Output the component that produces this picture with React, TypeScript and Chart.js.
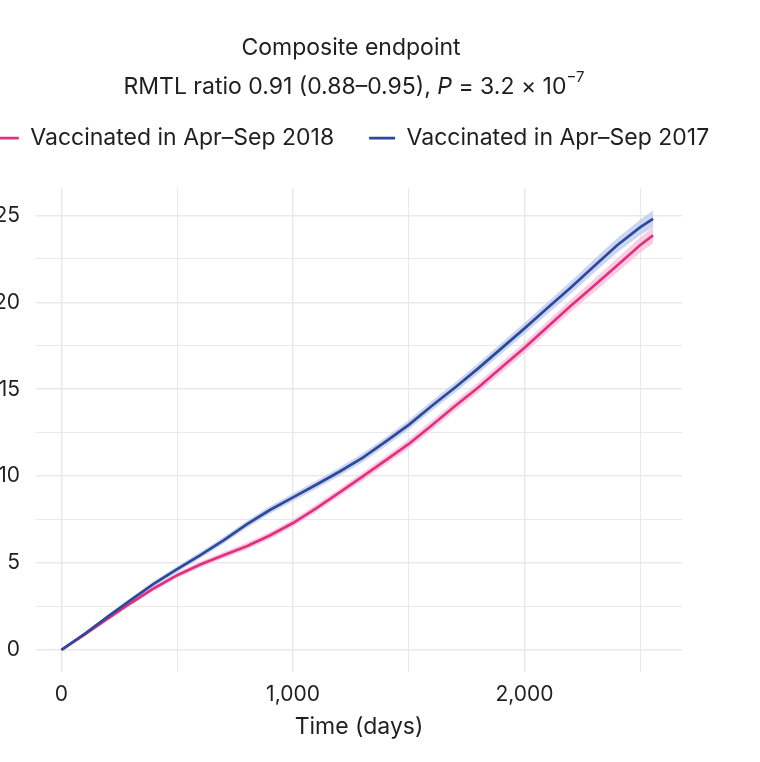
import { useEffect, useRef } from "react";
import { Chart, registerables } from "chart.js";

Chart.register(...registerables);

// Restricted mean time lost (days)
const days = [0, 100, 200, 300, 400, 500, 600, 700, 800, 900, 1000, 1100, 1200, 1300, 1400, 1500, 1600, 1700, 1800, 1900, 2000, 2100, 2200, 2300, 2400, 2500, 2555];
const rmtl2017 = [0, 0.92, 1.92, 2.88, 3.82, 4.65, 5.45, 6.3, 7.22, 8.05, 8.78, 9.5, 10.25, 11.05, 11.98, 12.95, 14.05, 15.1, 16.2, 17.35, 18.5, 19.68, 20.85, 22.08, 23.28, 24.32, 24.8];
const rmtl2018 = [0, 0.88, 1.8, 2.7, 3.55, 4.3, 4.92, 5.45, 5.97, 6.58, 7.3, 8.15, 9.05, 9.97, 10.9, 11.85, 12.93, 14.03, 15.1, 16.25, 17.38, 18.6, 19.8, 20.95, 22.12, 23.3, 23.85];
const ci2017 = [0, 0.06, 0.09, 0.12, 0.14, 0.16, 0.18, 0.19, 0.2, 0.21, 0.22, 0.23, 0.24, 0.25, 0.26, 0.27, 0.28, 0.29, 0.3, 0.31, 0.32, 0.34, 0.36, 0.38, 0.41, 0.45, 0.48];
const ci2018 = [0, 0.06, 0.09, 0.11, 0.13, 0.15, 0.17, 0.18, 0.19, 0.2, 0.21, 0.22, 0.23, 0.24, 0.25, 0.26, 0.27, 0.28, 0.29, 0.3, 0.31, 0.33, 0.35, 0.37, 0.4, 0.44, 0.47];

const xTicks = [0, 500, 1000, 1500, 2000, 2500];
const yTicks = [0, 2.5, 5, 7.5, 10, 12.5, 15, 17.5, 20, 22.5, 25];

const FONT = "Inter, 'DejaVu Sans', sans-serif";
const TEXT = "#1f1f1f";
const BLUE = "#2d4a9a";
const PINK = "#e2307e";
const BLUE_BAND = "rgba(182, 196, 236, 0.7)";
const PINK_BAND = "rgba(250, 184, 214, 0.7)";
const GRID = "#e9e9e9";

const points = (ys: number[], ci?: number[], sign = 0) =>
  days.map((d, i) => ({ x: d, y: ys[i] + (ci ? sign * ci[i] : 0) }));

// subtitle has an italic P and a superscript exponent, so draw it by hand
const richSubtitle = {
  id: "richSubtitle",
  afterDraw(chart: Chart) {
    const ctx = chart.ctx;
    const parts = [
      { text: "RMTL ratio 0.91 (0.88–0.95), ", font: `23px ${FONT}`, dy: 0 },
      { text: "P", font: `italic 23px ${FONT}`, dy: 0 },
      { text: " = 3.2 × 10", font: `23px ${FONT}`, dy: 0 },
      { text: "−7", font: `15px ${FONT}`, dy: -10 },
    ];
    ctx.save();
    let total = 0;
    for (const p of parts) {
      ctx.font = p.font;
      total += ctx.measureText(p.text).width;
    }
    let x = chart.width / 2 - total / 2 + 3;
    const y = 87;
    ctx.fillStyle = TEXT;
    ctx.textBaseline = "middle";
    ctx.textAlign = "left";
    for (const p of parts) {
      ctx.font = p.font;
      ctx.fillText(p.text, x, y + p.dy);
      x += ctx.measureText(p.text).width;
    }
    ctx.restore();
  },
};

export default function App() {
  const canvasRef = useRef<HTMLCanvasElement | null>(null);

  useEffect(() => {
    if (!canvasRef.current) return;

    const chart = new Chart(canvasRef.current, {
      type: "line",
      data: {
        datasets: [
          {
            label: "Vaccinated in Apr–Sep 2017",
            data: points(rmtl2017),
            borderColor: BLUE,
            backgroundColor: BLUE,
            borderWidth: 2.7,
            pointRadius: 0,
            fill: false,
          },
          {
            label: "Vaccinated in Apr–Sep 2018",
            data: points(rmtl2018),
            borderColor: PINK,
            backgroundColor: PINK,
            borderWidth: 2.7,
            pointRadius: 0,
            fill: false,
          },
          {
            label: "2017 upper",
            data: points(rmtl2017, ci2017, 1),
            borderColor: "transparent",
            backgroundColor: BLUE_BAND,
            borderWidth: 0,
            pointRadius: 0,
            fill: "+1",
          },
          {
            label: "2017 lower",
            data: points(rmtl2017, ci2017, -1),
            borderColor: "transparent",
            borderWidth: 0,
            pointRadius: 0,
            fill: false,
          },
          {
            label: "2018 upper",
            data: points(rmtl2018, ci2018, 1),
            borderColor: "transparent",
            backgroundColor: PINK_BAND,
            borderWidth: 0,
            pointRadius: 0,
            fill: "+1",
          },
          {
            label: "2018 lower",
            data: points(rmtl2018, ci2018, -1),
            borderColor: "transparent",
            borderWidth: 0,
            pointRadius: 0,
            fill: false,
          },
        ],
      },
      options: {
        responsive: false,
        animation: false,
        layout: { padding: 0 },
        plugins: {
          tooltip: { enabled: false },
          title: {
            display: true,
            text: "Composite endpoint",
            color: TEXT,
            font: { family: FONT, size: 23, weight: "normal" },
            padding: { top: 34, bottom: 30 },
          },
          // invisible spacer between legend and plot
          subtitle: {
            display: true,
            text: " ",
            color: "rgba(0,0,0,0)",
            weight: 500,
            font: { size: 10 },
            padding: { top: 0, bottom: 16.5 },
          },
          legend: {
            display: true,
            labels: {
              usePointStyle: true,
              pointStyle: "line",
              pointStyleWidth: 26,
              padding: 35,
              color: TEXT,
              font: { family: FONT, size: 23 },
              filter: (item) => (item.datasetIndex ?? 0) <= 1,
              sort: (a, b) => (b.datasetIndex ?? 0) - (a.datasetIndex ?? 0),
            },
          },
        },
        scales: {
          x: {
            type: "linear",
            min: -110,
            max: 2680,
            afterBuildTicks: (s) => {
              s.ticks = xTicks.map((value) => ({ value }));
            },
            afterFit: (s) => {
              s.height = 90;
            },
            border: { display: false },
            grid: {
              color: GRID,
              drawTicks: false,
              lineWidth: (c) => (c.tick && c.tick.value % 1000 === 0 ? 1.5 : 1.1),
            },
            ticks: {
              padding: 10,
              color: TEXT,
              font: { family: FONT, size: 21 },
              maxRotation: 0,
              autoSkip: false,
              callback: (v) => (Number(v) % 1000 === 0 ? Number(v).toLocaleString("en-US") : ""),
            },
            title: {
              display: true,
              text: "Time (days)",
              color: TEXT,
              font: { family: FONT, size: 23 },
              padding: { top: 0, bottom: 21 },
            },
          },
          y: {
            type: "linear",
            min: -1.27,
            max: 26.57,
            afterBuildTicks: (s) => {
              s.ticks = yTicks.map((value) => ({ value }));
            },
            afterFit: (s) => {
              s.width = 85;
            },
            border: { display: false },
            grid: {
              color: GRID,
              drawTicks: false,
              lineWidth: (c) => (c.tick && c.tick.value % 5 === 0 ? 1.5 : 1.1),
            },
            ticks: {
              padding: 16,
              color: TEXT,
              font: { family: FONT, size: 21 },
              autoSkip: false,
              callback: (v) => (Number(v) % 5 === 0 ? String(v) : ""),
            },
          },
          yRight: {
            type: "linear",
            position: "right",
            display: true,
            afterFit: (s) => {
              s.width = 69;
            },
            border: { display: false },
            grid: { display: false },
            ticks: { display: false },
          },
        },
      },
      plugins: [richSubtitle],
    });

    return () => chart.destroy();
  }, []);

  return (
    <div
      style={{
        position: "fixed",
        left: 0,
        top: 0,
        width: 760,
        height: 762,
        overflow: "hidden",
        background: "#fff",
      }}
    >
      <canvas
        ref={canvasRef}
        width={800}
        height={762}
        style={{ position: "absolute", left: -49, top: 0 }}
      />
    </div>
  );
}
